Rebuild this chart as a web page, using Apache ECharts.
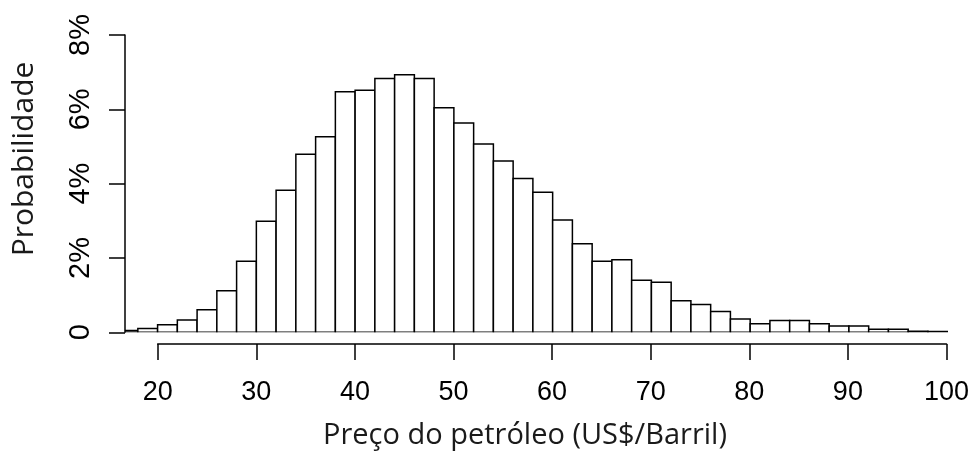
<!DOCTYPE html>
<html>
<head>
<meta charset="utf-8">
<script src="https://cdn.jsdelivr.net/npm/echarts@6/dist/echarts.min.js"></script>
<style>html,body{margin:0;padding:0;background:#fff}#c{width:972px;height:452px}</style>
</head>
<body>
<div id="c"></div>
<script>
// Histogram bins (US$/barrel), width 2
const binStarts = [16,18,20,22,24,26,28,30,32,34,36,38,40,42,44,46,48,50,52,54,56,58,60,62,64,66,68,70,72,74,76,78,80,82,84,86,88,90,92,94,96,98];
const binWidth = 2;
// Probability (%) per bin
const probs = [0.05,0.10,0.20,0.33,0.61,1.12,1.91,2.99,3.82,4.79,5.26,6.47,6.51,6.83,6.93,6.83,6.04,5.63,5.07,4.61,4.14,3.77,3.02,2.38,1.91,1.95,1.40,1.35,0.85,0.75,0.56,0.36,0.23,0.32,0.32,0.23,0.17,0.17,0.08,0.08,0.03,0.02];
const xTicks = [20,30,40,50,60,70,80,90,100];
const yTicks = [0,2,4,6,8];
const xTitle = 'Preço do petróleo (US$/Barril)';
const yTitle = 'Probabilidade';
const XMIN = 16.7, XMAX = 100;

const data = binStarts.map((s, i) => [s, s + binWidth, probs[i]]);

const chart = echarts.init(document.getElementById('c'), null, {renderer: 'canvas'});
const labelFont = 'Liberation Sans, Arial, sans-serif';
const titleFont = 'Open Sans, Noto Sans, sans-serif';

chart.setOption({
  animation: false,
  backgroundColor: '#fff',
  grid: [
    {left: 125, right: 24.3, top: 35, bottom: 119.7},
    {left: 157.7, right: 24.3, top: 343, height: 1}
  ],
  xAxis: [
    {type: 'value', gridIndex: 0, min: XMIN, max: XMAX, show: false},
    {type: 'value', gridIndex: 1, min: xTicks[0], max: xTicks[xTicks.length - 1], interval: 10,
     position: 'bottom',
     axisLine: {show: true, lineStyle: {color: '#000', width: 1.5}},
     axisTick: {show: true, length: 16, inside: false, lineStyle: {color: '#000', width: 1.5}},
     axisLabel: {show: true, margin: 35, color: '#000', fontSize: 27, fontFamily: labelFont,
       formatter: v => String(v)},
     splitLine: {show: false}}
  ],
  yAxis: [
    {type: 'value', gridIndex: 0, min: yTicks[0], max: yTicks[yTicks.length - 1], interval: 2,
     axisLine: {show: true, lineStyle: {color: '#000', width: 1.5}},
     axisTick: {show: true, length: 16, inside: false, lineStyle: {color: '#000', width: 1.5}},
     axisLabel: {show: true, rotate: 90, margin: 30, color: '#000', fontSize: 29, fontFamily: labelFont,
       formatter: v => v === 0 ? '0' : v + '%'},
     splitLine: {show: false}},
    {type: 'value', gridIndex: 1, show: false, min: 0, max: 1}
  ],
  series: [{
    type: 'custom',
    xAxisIndex: 0, yAxisIndex: 0,
    clip: true,
    data: data,
    encode: {x: [0, 1], y: 2},
    renderItem: function (params, api) {
      const x0 = Math.max(api.value(0), XMIN);
      const x1 = Math.min(api.value(1), XMAX);
      const p0 = api.coord([x0, 0]);
      const p1 = api.coord([x1, api.value(2)]);
      return {
        type: 'rect',
        shape: {x: p0[0], y: p1[1], width: p1[0] - p0[0], height: p0[1] - p1[1]},
        style: {fill: '#fff', stroke: '#000', lineWidth: 1.5}
      };
    }
  }],
  graphic: [
    {type: 'text', x: 525, y: 436,
     style: {text: xTitle, x: 0, y: 0, align: 'center', verticalAlign: 'middle',
       font: '29px ' + titleFont, fill: '#1a1a1a'}},
    {type: 'text', x: 24, y: 159, rotation: Math.PI / 2,
     style: {text: yTitle, x: 0, y: 0, align: 'center', verticalAlign: 'middle',
       font: '30px ' + titleFont, fill: '#1a1a1a'}}
  ]
});
</script>
</body>
</html>
